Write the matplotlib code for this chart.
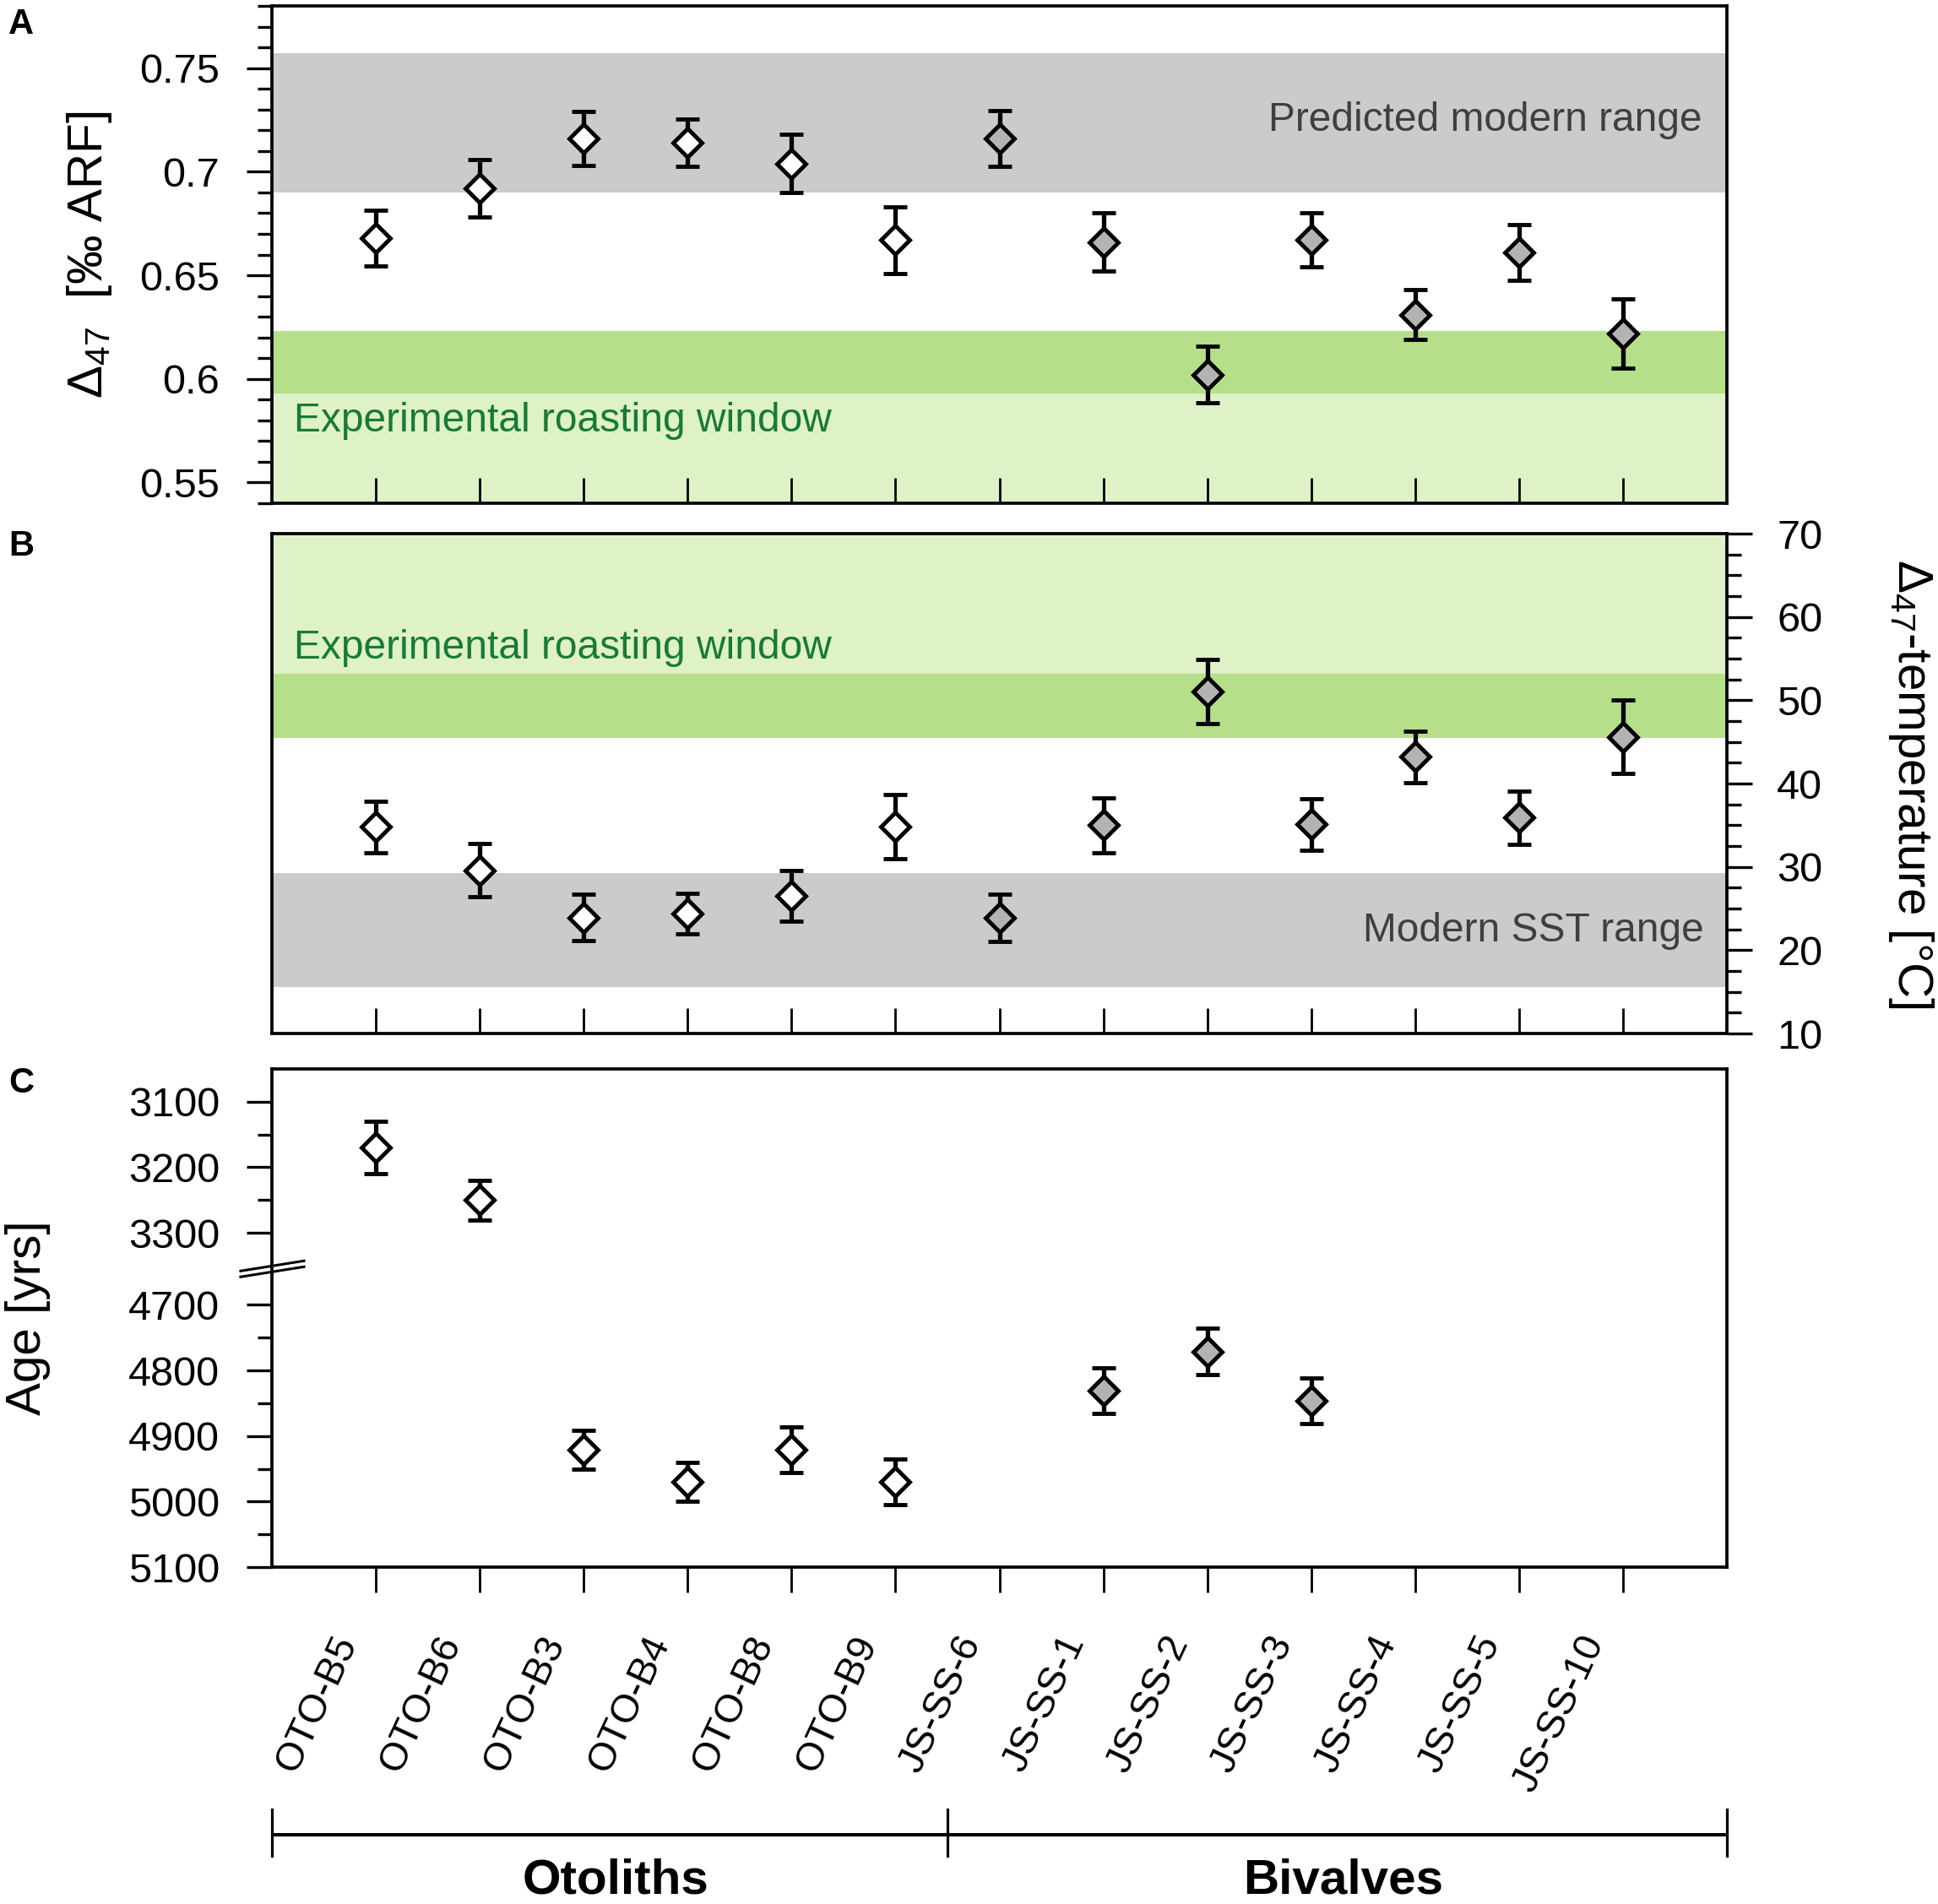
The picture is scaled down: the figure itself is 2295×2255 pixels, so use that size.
import numpy as np
import matplotlib
matplotlib.use("Agg")
import matplotlib.pyplot as plt
from matplotlib.ticker import MultipleLocator, FormatStrFormatter
from matplotlib.transforms import ScaledTranslation

plt.rcParams['font.family'] = ['Liberation Sans', 'DejaVu Sans']
plt.rcParams['mathtext.fontset'] = 'custom'
plt.rcParams['mathtext.rm'] = 'Liberation Sans'
plt.rcParams['mathtext.it'] = 'Liberation Sans:italic'
plt.rcParams['mathtext.bf'] = 'Liberation Sans:bold'

# samples, in plotting order
samples = ["OTO-B5", "OTO-B6", "OTO-B3", "OTO-B4", "OTO-B8", "OTO-B9",
           "JS-SS-6", "JS-SS-1", "JS-SS-2", "JS-SS-3", "JS-SS-4", "JS-SS-5", "JS-SS-10"]
groups = ["Otoliths"] * 6 + ["Bivalves"] * 7

# panel A: clumped isotope values
d47 = [0.668, 0.692, 0.716, 0.714, 0.704, 0.667,
       0.716, 0.666, 0.602, 0.667, 0.631, 0.661, 0.622]
d47_err = [0.0135, 0.014, 0.013, 0.0115, 0.014, 0.016,
           0.0134, 0.014, 0.0137, 0.013, 0.012, 0.0134, 0.0168]

# panel B: temperatures
temp = [34.8, 29.6, 23.9, 24.4, 26.5, 34.8,
        23.9, 35.0, 51.0, 35.1, 43.2, 35.9, 45.6]
temp_err = [3.1, 3.2, 2.8, 2.4, 3.05, 3.85,
            2.85, 3.3, 3.85, 3.1, 3.05, 3.15, 4.4]

# panel C: ages (nan = not dated)
age = [3170, 3250, 4921, 4970, 4921, 4970,
       np.nan, 4831, 4771, 4846, np.nan, np.nan, np.nan]
age_err = [40, 30, 30, 30, 35, 35,
           np.nan, 35, 35, 35, np.nan, np.nan, np.nan]

# reference ranges
d47_modern = (0.690, 0.757)
d47_roast = (0.593, 0.623)
temp_sst = (15.6, 29.3)
temp_roast = (45.5, 53.2)

age_ticks = [3100, 3200, 3300, 4700, 4800, 4900, 5000, 5100]
age_minor = [3150, 3250, 4750, 4850, 4950, 5050]
age_break = (3300, 4700)
AGE_GAP = 110

GREY = '#cbcbcb'
LIGHT_GREEN = '#dff1c7'
DARK_GREEN = '#b5df89'
TEXT_GREY = '#3f3f3f'
TEXT_GREEN = '#177a37'
fills = {"Otoliths": "white", "Bivalves": "#b3b3b3"}

TICK_FS = 35
LABEL_FS = 42
BAND_FS = 34.5


def age_forward(y):
    y = np.asarray(y, dtype=float)
    lo, hi = age_break
    return np.where(y <= lo, y,
                    np.where(y >= hi, y - hi + lo + AGE_GAP,
                             lo + (y - lo) * AGE_GAP / (hi - lo)))


def age_inverse(v):
    v = np.asarray(v, dtype=float)
    lo, hi = age_break
    return np.where(v <= lo, v,
                    np.where(v >= lo + AGE_GAP, v - lo - AGE_GAP + hi,
                             lo + (v - lo) * (hi - lo) / AGE_GAP))


def style_frame(ax):
    for sp in ax.spines.values():
        sp.set_linewidth(2.7)


def draw_points(ax, x, y, err):
    x = np.asarray(x, dtype=float)
    y = np.asarray(y, dtype=float)
    err = np.asarray(err, dtype=float)
    g = np.asarray(groups)
    for name, fill in fills.items():
        m = (g == name) & ~np.isnan(y)
        ax.errorbar(x[m], y[m], yerr=err[m], fmt='D', ms=17, mfc=fill,
                    mec='black', mew=3.5, ecolor='black', elinewidth=3.8,
                    capsize=10, capthick=4.8, zorder=3)


def main():
    n = len(samples)
    x = np.arange(1, n + 1)

    fig = plt.figure(figsize=(22.95, 22.55), dpi=100)
    left = 322 / 2295
    width = (2045 - 322) / 2295
    ax_a = fig.add_axes([left, 1 - 596 / 2255, width, 589 / 2255])
    ax_b = fig.add_axes([left, 1 - 1224 / 2255, width, 592 / 2255])
    ax_c = fig.add_axes([left, 1 - 1856 / 2255, width, 590 / 2255])

    # ---- panel A
    ax_a.axhspan(0.3, d47_roast[0], color=LIGHT_GREEN, lw=0, zorder=0)
    ax_a.axhspan(*d47_roast, color=DARK_GREEN, lw=0, zorder=0)
    ax_a.axhspan(*d47_modern, color=GREY, lw=0, zorder=0)
    draw_points(ax_a, x, d47, d47_err)
    ax_a.set_ylim(0.54, 0.78)
    ax_a.yaxis.set_major_locator(MultipleLocator(0.05))
    ax_a.yaxis.set_minor_locator(MultipleLocator(0.01))
    ax_a.yaxis.set_major_formatter(FormatStrFormatter('%g'))
    ax_a.set_ylabel('Δ$_{47}$  [‰ ARF]', fontsize=LABEL_FS, va='bottom')
    ax_a.yaxis.set_label_coords(-0.1085, 0.5)
    ax_a.tick_params(axis='y', which='major', direction='out', length=21.6,
                     width=2.4, labelsize=TICK_FS, pad=23)
    ax_a.tick_params(axis='y', which='minor', direction='out', length=12.5, width=2.4)
    trans = ax_a.get_yaxis_transform()
    ax_a.text(0.983, 0.7248, 'Predicted modern range', transform=trans,
              ha='right', va='center', fontsize=BAND_FS, color=TEXT_GREY)
    ax_a.text(0.0151, 0.5797, 'Experimental roasting window', transform=trans,
              ha='left', va='center', fontsize=BAND_FS, color=TEXT_GREEN)

    # ---- panel B
    ax_b.axhspan(temp_roast[1], 100, color=LIGHT_GREEN, lw=0, zorder=0)
    ax_b.axhspan(*temp_roast, color=DARK_GREEN, lw=0, zorder=0)
    ax_b.axhspan(*temp_sst, color=GREY, lw=0, zorder=0)
    draw_points(ax_b, x, temp, temp_err)
    ax_b.set_ylim(10, 70)
    ax_b.yaxis.set_major_locator(MultipleLocator(10))
    ax_b.yaxis.set_minor_locator(MultipleLocator(2.5))
    ax_b.yaxis.tick_right()
    ax_b.yaxis.set_label_position('right')
    ax_b.tick_params(axis='y', which='major', direction='out', length=21.6,
                     width=2.4, labelsize=TICK_FS, pad=21, left=False, right=True)
    ax_b.tick_params(axis='y', which='minor', direction='out', length=12.5,
                     width=2.4, left=False, right=True)
    ax_b.set_ylabel('Δ$_{47}$-temperature [°C]', fontsize=LABEL_FS,
                    rotation=270, va='bottom')
    ax_b.yaxis.set_label_coords(1.1097, 0.5)
    trans = ax_b.get_yaxis_transform()
    ax_b.text(0.0151, 56.3, 'Experimental roasting window', transform=trans,
              ha='left', va='center', fontsize=BAND_FS, color=TEXT_GREEN)
    ax_b.text(0.984, 22.3, 'Modern SST range', transform=trans,
              ha='right', va='center', fontsize=BAND_FS, color=TEXT_GREY)

    # ---- panel C (broken age axis)
    ax_c.set_yscale('function', functions=(age_forward, age_inverse))
    draw_points(ax_c, x, age, age_err)
    ax_c.set_ylim(age_ticks[-1], 3050)
    ax_c.set_yticks(age_ticks)
    ax_c.set_yticks(age_minor, minor=True)
    ax_c.yaxis.set_major_formatter(FormatStrFormatter('%d'))
    ax_c.tick_params(axis='y', which='major', direction='out', length=21.6,
                     width=2.4, labelsize=TICK_FS, pad=23)
    ax_c.tick_params(axis='y', which='minor', direction='out', length=12.5, width=2.4)
    ax_c.set_ylabel('Age [yrs]', fontsize=LABEL_FS, va='bottom')
    ax_c.yaxis.set_label_coords(-0.152, 0.5)

    # break marks on the age axis
    yb = ax_c.transAxes.inverted().transform(
        ax_c.transData.transform((1, sum(age_break) / 2)))[1]
    s = 3.5 / 590
    r = 12 / 590
    for off in (s, -s):
        ax_c.plot([-0.0215, 0.0221], [yb + off - r / 2, yb + off + r / 2],
                  transform=ax_c.transAxes, color='black', lw=2.2,
                  clip_on=False, zorder=5)

    for ax in (ax_a, ax_b, ax_c):
        style_frame(ax)
        ax.set_xlim(0, n + 1)
        ax.set_xticks(x)
        ax.tick_params(axis='x', which='both', top=False, bottom=True)
        ax.tick_params(axis='x', which='minor', bottom=False)

    for ax in (ax_a, ax_b):
        ax.tick_params(axis='x', direction='in', length=21.6, width=2,
                       labelbottom=False)

    ax_c.tick_params(axis='x', direction='out', length=21.6, width=2, pad=31.7)
    ax_c.set_xticklabels(samples, rotation=65, ha='right', va='top', fontsize=33.5)
    shift = ScaledTranslation(-13 / 100, 0, fig.dpi_scale_trans)
    for lab in ax_c.get_xticklabels():
        lab.set_transform(lab.get_transform() + shift)

    # ---- group bracket under the labels
    ax_g = fig.add_axes([left, 0, width, 145 / 2255])
    ax_g.set_xlim(0, n + 1)
    ax_g.set_ylim(0, 1)
    ax_g.axis('off')
    names = list(dict.fromkeys(groups))
    counts = [groups.count(g) for g in names]
    edges = [0.0]
    for c in counts:
        edges.append(edges[-1] + c)
    edges = [0.0] + [e + 0.5 for e in edges[1:-1]] + [n + 1.0]
    ax_g.plot([edges[0], edges[-1]], [0.5655, 0.5655], color='black', lw=2.9,
              solid_capstyle='butt', clip_on=False)
    for e in edges:
        ax_g.plot([e, e], [0.393, 0.772], color='black', lw=2.3, clip_on=False)
    for i, name in enumerate(names):
        ax_g.text((edges[i] + edges[i + 1]) / 2 + 0.06, 0.19, name, ha='center',
                  va='center', fontsize=42, fontweight='bold')

    # panel letters
    for letter, top in (('A', 17), ('B', 635), ('C', 1271)):
        fig.text(10 / 2295, 1 - (top - 8) / 2255, letter, fontsize=30,
                 fontweight='bold', ha='left', va='top')

    fig.savefig('out.png', dpi=100)


if __name__ == "__main__":
    main()
